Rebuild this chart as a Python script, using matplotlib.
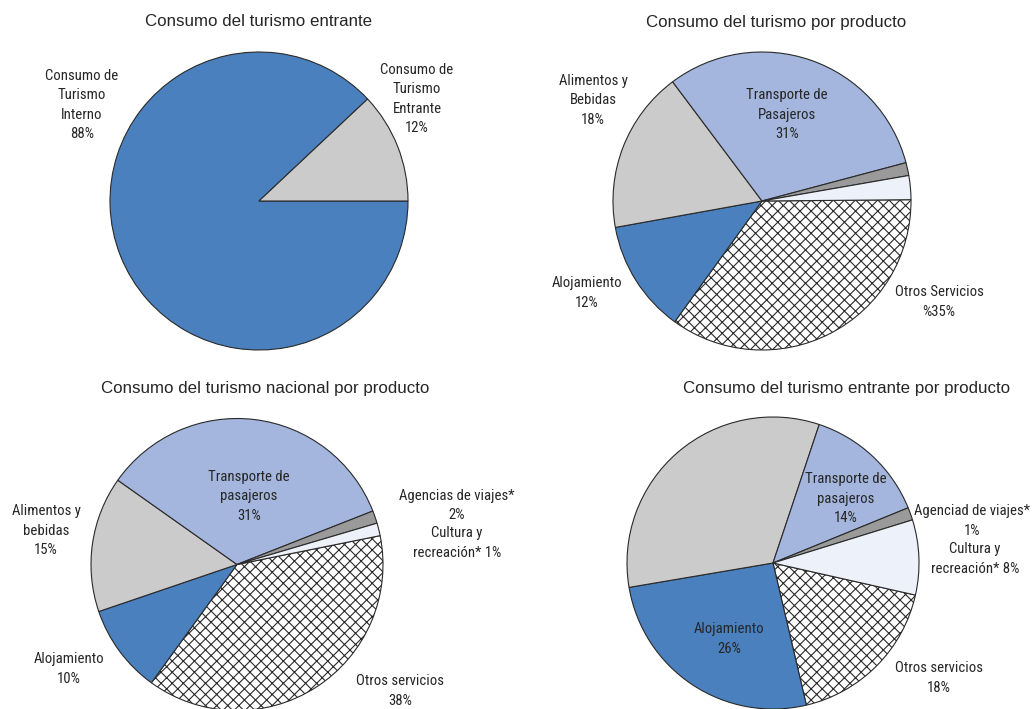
import matplotlib
matplotlib.use("Agg")
import matplotlib.pyplot as plt
from matplotlib import font_manager

# pick a narrow sans if one is installed, else regular Liberation Sans at smaller size
_fonts = font_manager.fontManager.ttflist
narrow = None
for cand in ["Liberation Sans Narrow", "Arial Narrow", "Roboto Condensed", "Open Sans Condensed",
             "DejaVu Sans Condensed"]:
    if any(f.name == cand for f in _fonts):
        narrow = cand
        break
if narrow is None:
    for f in _fonts:
        if f.stretch in ("condensed", "semi-condensed") and f.name in ("DejaVu Sans", "Roboto", "Open Sans", "Noto Sans", "Liberation Sans"):
            narrow = f.name
            break
if narrow is None:
    LAB_FONT = dict(family="Liberation Sans", fontsize=9.6)
    LINESP = 1.52
else:
    LAB_FONT = dict(family=narrow, fontsize=10.6, fontstretch="condensed")
    LINESP = 1.5

plt.rcParams['hatch.linewidth'] = 0.8

# ---- data ----
p1_labels = ["Consumo de\nTurismo\nInterno\n88%", "Consumo de\nTurismo\nEntrante\n12%"]
p1_values = [88, 12]

p2_labels = ["Otros Servicios\n%35%", "Alojamiento\n12%", "Alimentos y\nBebidas\n18%",
             "Transporte de\nPasajeros\n31%", "", ""]
p2_values = [35.1, 12.2, 17.6, 31.1, 1.4, 2.6]

p3_labels = ["Otros servicios\n38%", "Alojamiento\n10%", "Alimentos y\nbebidas\n15%",
             "Transporte de\npasajeros\n31%", "Agencias de viajes*\n2%", "Cultura y\nrecreación* 1%"]
p3_values = [38.1, 9.8, 15.0, 34.2, 1.4, 1.4]

p4_labels = ["Otros servicios\n18%", "Alojamiento\n26%", "", "Transporte de\npasajeros\n14%",
             "Agenciad de viajes*\n1%", "Cultura y\nrecreación* 8%"]
p4_values = [17.8, 26.0, 32.8, 13.7, 1.4, 8.3]

titles = ["Consumo del turismo entrante", "Consumo del turismo por producto",
          "Consumo del turismo nacional por producto", "Consumo del turismo entrante por producto"]

# ---- style ----
BLUE = "#4a80bd"
LBLUE = "#a4b6dd"
GRAY = "#cbcbcb"
DGRAY = "#9a9a9a"
WHITE = "#edf1f9"
HATCHFC = "#ffffff"
prod_colors = [HATCHFC, BLUE, GRAY, LBLUE, DGRAY, WHITE]
prod_hatch = ["xxx", None, None, None, None, None]
EDGE = "#2a2a2a"
TXT = "#262626"

W, H = 1034, 709
fig = plt.figure(figsize=(W / 100, H / 100), dpi=100)
ax = fig.add_axes([0, 0, 1, 1])


def Y(y):
    return H - y


def draw_pie(values, colors, hatches, center, r, start):
    wedges, _ = ax.pie(values, colors=colors, center=(center[0], Y(center[1])), radius=r,
                       startangle=start, counterclock=False,
                       wedgeprops=dict(edgecolor=EDGE, linewidth=0.8))
    for w, h in zip(wedges, hatches):
        if h:
            w.set_hatch(h)
    return wedges


draw_pie(p1_values, [BLUE, GRAY], [None, None], (259, 201), 149, 0)
draw_pie(p2_values, prod_colors, prod_hatch, (762, 201), 149, 0.5)
draw_pie(p3_values, prod_colors, prod_hatch, (237, 564.5), 146, 11.4)
draw_pie(p4_values, prod_colors, prod_hatch, (773, 563), 146, -12.7)

ax.set_xlim(0, W)
ax.set_ylim(0, H)
ax.set_aspect('auto')
ax.axis('off')

# titles
for t, (x, y) in zip(titles, [(259, 22), (776, 22), (265, 389), (847, 389)]):
    ax.text(x, Y(y), t, ha='center', va='center', fontsize=12.2, color=TXT,
            family="Liberation Sans")


def lab(s, x, y):
    if s:
        ax.text(x, Y(y), s, ha='center', va='center', color=TXT,
                linespacing=LINESP, multialignment='center', **LAB_FONT)


for s, pos in zip(p1_labels, [(82, 105), (417, 99)]):
    lab(s, *pos)
for s, pos in zip(p2_labels, [(939, 302), (587, 293), (593, 100), (787, 115), None, None]):
    if pos:
        lab(s, *pos)
for s, pos in zip(p3_labels, [(400, 691), (69, 669), (46, 531), (249, 496), (457, 505.5), (457, 543)]):
    lab(s, *pos)
for s, pos in zip(p4_labels, [(939, 678), (729, 639), None, (846, 499), (972, 521), (975, 559)]):
    if pos:
        lab(s, *pos)

fig.savefig("out.png", dpi=100)
